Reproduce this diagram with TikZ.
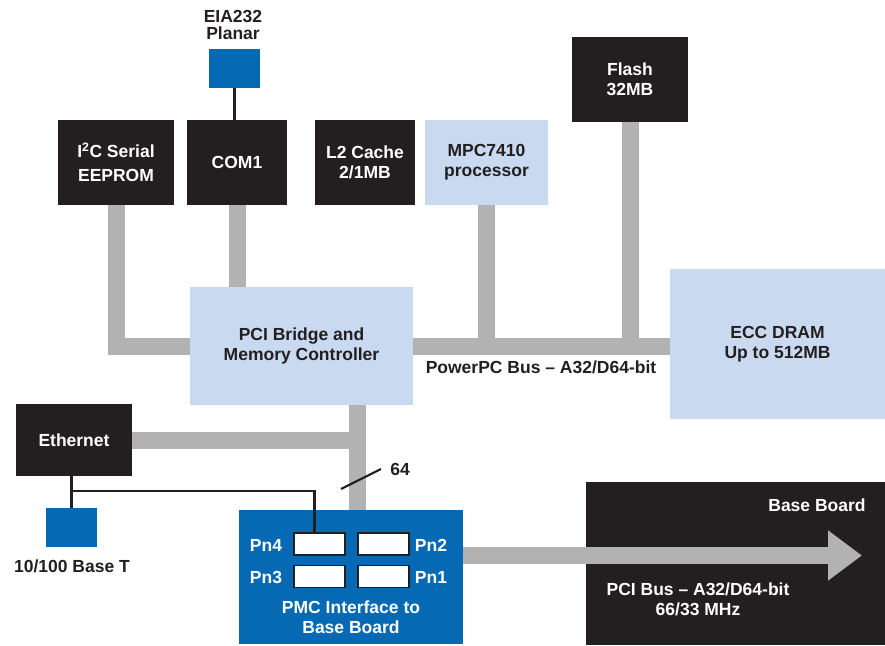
\documentclass[tikz,border=0pt]{standalone}
\usepackage{fontspec}
\setmainfont{Liberation Sans}
\usetikzlibrary{arrows.meta,calc}

\begin{document}
\begin{tikzpicture}[x=1pt,y=-1pt,
    font=\fontsize{17.5}{20}\selectfont\bfseries,
    chip/.style={fill=chipdark, text=white, inner sep=0pt, align=center},
    cpu/.style={fill=cpulight, text=chipdark, inner sep=0pt, align=center},
    jack/.style={fill=pmcblue, inner sep=0pt, minimum width=51, minimum height=39},
    port/.style={draw=chipdark, line width=1.8pt, fill=white, inner sep=0pt, minimum width=51, minimum height=22},
    bus/.style={draw=busgray, line width=17pt},
    wire/.style={draw=chipdark, line width=2.2pt},
    tag/.style={text=chipdark, align=center}]
        % Colours
        \definecolor{chipdark}{RGB}{35,31,32}
        \definecolor{cpulight}{RGB}{201,217,240}
        \definecolor{pmcblue}{RGB}{5,105,180}
        \definecolor{busgray}{RGB}{178,178,178}

        \useasboundingbox (0,0) rectangle (885,645);

        % Top row of devices
        \node[jack] (planar) at (234.5,68.5) {};
        \node[tag, font=\fontsize{17.5}{17}\selectfont\bfseries] (planartxt) at (233,25) {EIA232\\Planar};
        \node[chip, minimum width=116, minimum height=85] (eeprom) at (116,162.5) {I\textsuperscript{2}C Serial\\[4pt]EEPROM};
        \node[chip, minimum width=100, minimum height=85] (com1) at (237,162.5) {COM1};
        \node[chip, minimum width=100, minimum height=85] (cache) at (365,162.5) {L2 Cache\\2/1MB};
        \node[cpu, minimum width=123, minimum height=85] (mpc) at (486.5,162.5) {MPC7410\\processor};
        \node[chip, minimum width=116, minimum height=85] (flash) at (630,79.5) {Flash\\32MB};

        % Bridge and memory
        \node[cpu, minimum width=223, minimum height=118] (bridge) at (301.5,346) {PCI Bridge and\\Memory Controller};
        \node[cpu, minimum width=215, minimum height=150] (dram) at (777.5,344) {ECC DRAM\\Up to 512MB};
        \node[tag] (ppcbus) at (541,367) {PowerPC Bus -- A32/D64-bit};

        % Ethernet
        \node[chip, minimum width=116, minimum height=72] (eth) at (74,440) {Ethernet};
        \node[jack] (rj45) at (71.5,527.5) {};
        \node[tag] (rj45txt) at (72,566) {10/100 Base T};

        % Base board and PMC site
        \node[fill=chipdark, minimum width=299, minimum height=163, inner sep=0pt] (base) at (735.5,563.5) {};
        \node[text=white] (basetxt) at (817,505) {Base Board};
        \node[text=white, align=center] (pcitxt) at (698,599) {PCI Bus -- A32/D64-bit\\66/33 MHz};

        \coordinate (pcidown) at (357.5,405);
        \coordinate (ethtap) at (70,491);
        \coordinate (tip) at (862,555.5);

        % Grey buses
        \draw[bus] (eeprom.south) |- (bridge.west);
        \draw[bus] (com1.south) -- (com1.south |- bridge.north);
        \draw[bus] (bridge.east) -- (dram.west |- bridge.east);
        \draw[bus] (mpc.south) -- (mpc.south |- bridge.east);
        \draw[bus] (flash.south) -- (flash.south |- bridge.east);
        \draw[bus] (pcidown) -- (357.5,510);
        \draw[bus] (eth.east) -- (eth.east -| pcidown);

        \node[fill=pmcblue, minimum width=224, minimum height=134, inner sep=0pt] (pmc) at (351,577) {};
        \draw[bus, -{Triangle[length=34pt, width=48pt]}] (pmc.east |- tip) -- (tip);

        % PMC connectors
        \node[port] (pn4) at (319.5,544) {};
        \node[port] (pn2) at (383.5,544) {};
        \node[port] (pn3) at (319.5,576.5) {};
        \node[port] (pn1) at (383.5,576.5) {};
        \node[text=white] at (266,545) {Pn4};
        \node[text=white] at (266,577) {Pn3};
        \node[text=white] at (431,545) {Pn2};
        \node[text=white] at (431,577) {Pn1};
        \node[text=white, align=center] (pmctxt) at (351,617) {PMC Interface to\\Base Board};

        % Thin wires
        \draw[wire] (planar.south) -- (planar.south |- com1.north);
        \draw[wire] (rj45.north |- eth.south) -- (rj45.north);
        \draw[wire] (ethtap) -| ($(pn4.north)+(-5,0)$);

        % Bus width mark
        \draw[wire] (341,489) -- (381,469);
        \node[tag] (width) at (400,469) {64};
    \end{tikzpicture}
\end{document}
